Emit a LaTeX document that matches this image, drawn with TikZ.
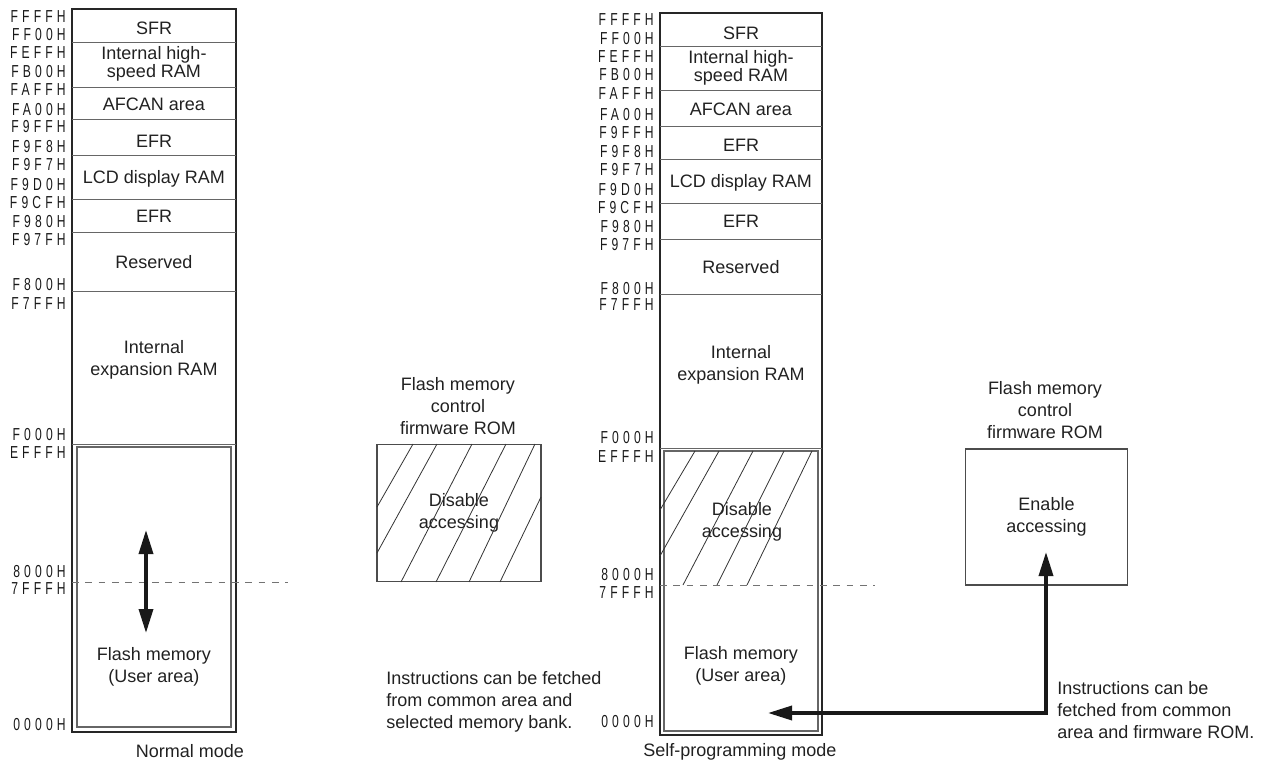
\documentclass[tikz,border=0pt]{standalone}
\usepackage{fontspec}
\setmainfont{Liberation Sans}
\newfontfamily\addrfont{Liberation Sans}[FakeStretch=0.70,LetterSpace=24]
\usetikzlibrary{arrows.meta}
\begin{document}
\begin{tikzpicture}[x=0.75pt,y=-0.75pt,
  txt/.style={font=\fontsize{13.5}{16.5}\selectfont, align=center, text=black!87, inner sep=0pt},
  tight/.style={font=\fontsize{13.5}{13.5}\selectfont},
  addr/.style={font=\addrfont\fontsize{13}{14}\selectfont, anchor=east, inner sep=0pt, text=black!90},
  outerbox/.style={line width=1.8pt, draw=black!85},
  divider/.style={line width=0.7pt, draw=black!60},
  innerbox/.style={line width=0.8pt, draw=black!60},
  hatch/.style={line width=0.6pt, draw=black!80},
  dashline/.style={dash pattern=on 5pt off 5pt, line width=0.6pt, draw=black!55},
  fwbox/.style={draw=black!70, line width=0.8pt, minimum width=123pt, minimum height=103pt, inner sep=0pt, align=center, font=\fontsize{13.5}{16.5}\selectfont, text=black!87},
  bigarrow/.style={line width=2.6pt, draw=black!90, line join=miter,
     {Triangle[length=18pt,width=10.5pt]}-{Triangle[length=18pt,width=10.5pt]}},
]
\useasboundingbox (0,0) rectangle (1268,767);

% ================= LEFT: Normal mode =================
\draw[outerbox] (72,9) rectangle (236,732);
\foreach \yy in {42,87,119,155,199,232,291,444}
  \draw[divider] (72,\yy) -- (236,\yy);
\draw[innerbox] (77,447) rectangle (231,727);
\draw[dashline] (72,582) -- (288,582);

\node[txt] (l1) at (154,28) {SFR};
\node[txt,tight] (l2) at (154,64) {Internal high-\\speed RAM};
\node[txt] (l3) at (154,104) {AFCAN area};
\node[txt] (l4) at (154,141) {EFR};
\node[txt] (l5) at (154,179) {LCD display RAM};
\node[txt] (l6) at (154,216) {EFR};
\node[txt] (l7) at (154,262) {Reserved};
\node[txt] (l8) at (154,360) {Internal\\expansion RAM};
\node[txt] (l9) at (154,667) {Flash memory\\(User area)};
\node[txt] (lmode) at (190,751) {Normal mode};

\foreach \yy/\t [count=\i] in {17/FFFFH,35/FF00H,53/FEFFH,72/FB00H,90/FAFFH,110/FA00H,127/F9FFH,147/F9F8H,165/F9F7H,185/F9D0H,203/F9CFH,222/F980H,240/F97FH,285/F800H,304/F7FFH,435/F000H,453/EFFFH,572/8000H,589/7FFFH,725/0000H}
  \node[addr] (la\i) at (66,\yy) {\t};

\coordinate (lup) at (146,530);
\coordinate (ldown) at (146,633);
\draw[bigarrow] (lup) -- (ldown);

% ================= MIDDLE: firmware ROM (disabled) =================
\node[txt] (fwt1) at (458,406) {Flash memory\\control\\firmware ROM};
\node[fwbox] (fw1) at (459,513) {Disable\\accessing};
\draw[hatch] (377,507) -- (413,444);
\draw[hatch] (377,553) -- (437,444);
\draw[hatch] (401,582) -- (472,444);
\draw[hatch] (436,582) -- (506,444);
\draw[hatch] (469,582) -- (535,444);
\draw[hatch] (500,582) -- (541,497);

\node[txt, align=left, anchor=west] (note1) at (386,702) {Instructions can be fetched\\from common area and\\selected memory bank.};

% ================= RIGHT: Self-programming mode =================
\draw[outerbox] (660,13) rectangle (822,735);
\foreach \yy in {46,90,126,159,203,239,294,448}
  \draw[divider] (660,\yy) -- (822,\yy);
\draw[innerbox] (664,451) rectangle (818,731);
\draw[dashline] (660,585) -- (875,585);

\draw[hatch] (660,510) -- (695,451);
\draw[hatch] (660,556) -- (719,451);
\draw[hatch] (683,585) -- (753,451);
\draw[hatch] (717,585) -- (784,451);
\draw[hatch] (747,585) -- (812,451);

\node[txt] (r1) at (741,33) {SFR};
\node[txt,tight] (r2) at (741,68) {Internal high-\\speed RAM};
\node[txt] (r3) at (741,109) {AFCAN area};
\node[txt] (r4) at (741,145) {EFR};
\node[txt] (r5) at (741,183) {LCD display RAM};
\node[txt] (r6) at (741,221) {EFR};
\node[txt] (r7) at (741,267) {Reserved};
\node[txt] (r8) at (741,365) {Internal\\expansion RAM};
\node[txt] (r9) at (742,522) {Disable\\accessing};
\node[txt] (r10) at (741,666) {Flash memory\\(User area)};
\node[txt] (rmode) at (740,752) {Self-programming mode};

\foreach \yy/\t [count=\i] in {20/FFFFH,39/FF00H,57/FEFFH,75/FB00H,94/FAFFH,115/FA00H,133/F9FFH,152/F9F8H,170/F9F7H,190/F9D0H,208/F9CFH,227/F980H,245/F97FH,289/F800H,305/F7FFH,438/F000H,457/EFFFH,575/8000H,593/7FFFH,722/0000H}
  \node[addr] (ra\i) at (654,\yy) {\t};

% ================= RIGHT: firmware ROM (enabled) =================
\node[txt] (fwt2) at (1045,410) {Flash memory\\control\\firmware ROM};
\node[fwbox, minimum width=122pt, minimum height=102pt] (fw2) at (1046.5,517) {Enable\\accessing};

\coordinate (romin) at (1046,552);
\coordinate (flashin) at (768,713);
\draw[bigarrow] (romin) |- (flashin);

\node[txt, align=left, anchor=west] (note2) at (1057,710) {Instructions can be\\fetched from common\\area and firmware ROM.};

\end{tikzpicture}
\end{document}
